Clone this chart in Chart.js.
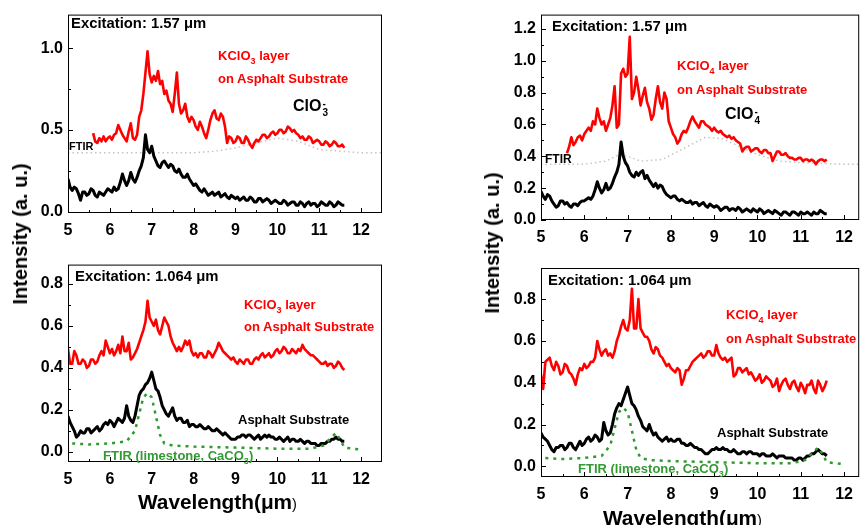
<!DOCTYPE html>
<html>
<head>
<meta charset="utf-8">
<script src="https://cdn.jsdelivr.net/npm/chart.js@4.4.1/dist/chart.umd.min.js"></script>
<style>
  body{margin:0;background:#fff;width:861px;height:525px;overflow:hidden;position:relative;font-family:"Liberation Sans",Arial,sans-serif;}
  canvas{position:absolute;}
  .t{position:absolute;font-weight:bold;white-space:nowrap;line-height:1;transform-origin:0 0;}
  .blk{color:#000;font-size:14px;transform:scaleX(1.06);}
  .red{color:#ff0000;font-size:13px;}
  .grn{color:#339933;font-size:13px;}
  .ion{display:inline-block;font-size:10px;line-height:9px;vertical-align:-5px;margin-left:1px;}
  .ytitle{position:absolute;font-weight:bold;font-size:20px;white-space:nowrap;line-height:1;transform:translate(-50%,-50%) rotate(-90deg);}
  .xtitle{position:absolute;font-weight:bold;font-size:20px;white-space:nowrap;line-height:1;transform-origin:0 0;transform:scaleX(1.04);}
</style>
</head>
<body>
<canvas id="tl" width="430" height="250" style="left:0;top:0"></canvas>
<canvas id="tr" width="431" height="250" style="left:430px;top:0"></canvas>
<canvas id="bl" width="430" height="240" style="left:0;top:250px"></canvas>
<canvas id="br" width="431" height="258" style="left:430px;top:250px"></canvas>

<div class="t blk" style="left:71px;top:15.5px">Excitation: 1.57 &mu;m</div>
<div class="t red" style="left:218px;top:49px">KClO<sub style="font-size:9px">3</sub> layer</div>
<div class="t red" style="left:218px;top:72px">on Asphalt Substrate</div>
<div class="t" style="left:293px;top:98px;font-size:16px">ClO<span class="ion">-<br>3</span></div>
<div class="t" style="left:69px;top:141px;font-size:11px">FTIR</div>

<div class="t blk" style="left:552px;top:19px">Excitation: 1.57 &mu;m</div>
<div class="t red" style="left:677px;top:59px">KClO<sub style="font-size:9px">4</sub> layer</div>
<div class="t red" style="left:677px;top:83px">on Asphalt Substrate</div>
<div class="t" style="left:725px;top:106px;font-size:16px">ClO<span class="ion">-<br>4</span></div>
<div class="t" style="left:545px;top:153px;font-size:12px">FTIR</div>

<div class="t blk" style="left:75px;top:269px">Excitation: 1.064 &mu;m</div>
<div class="t red" style="left:244px;top:297.5px">KClO<sub style="font-size:9px">3</sub> layer</div>
<div class="t red" style="left:244px;top:320px">on Asphalt Substrate</div>
<div class="t" style="left:238px;top:412.5px;font-size:13px">Asphalt Substrate</div>
<div class="t grn" style="left:103px;top:449px">FTIR (limestone, CaCO<sub style="font-size:9px">3</sub>)</div>

<div class="t blk" style="left:548px;top:273px">Excitation: 1.064 &mu;m</div>
<div class="t red" style="left:726px;top:307.5px">KClO<sub style="font-size:9px">4</sub> layer</div>
<div class="t red" style="left:726px;top:331.5px">on Asphalt Substrate</div>
<div class="t" style="left:717px;top:425.5px;font-size:13px">Asphalt Substrate</div>
<div class="t grn" style="left:578px;top:461.5px">FTIR (limestone, CaCO<sub style="font-size:9px">3</sub>)</div>

<div class="ytitle" style="left:20px;top:234px">Intensity (a. u.)</div>
<div class="ytitle" style="left:492px;top:243px">Intensity (a. u.)</div>
<div class="xtitle" style="left:138px;top:492px">Wavelength(&mu;m<span style="font-weight:normal;font-size:14px">)</span></div>
<div class="xtitle" style="left:603px;top:508px">Wavelength(&mu;m<span style="font-weight:normal;font-size:14px">)</span></div>

<script>
// wavelength grid (um), 0.05 step, for the Raman spectra
const wl = [5.00,5.05,5.10,5.15,5.20,5.25,5.30,5.35,5.40,5.45,5.50,5.55,5.60,5.65,5.70,5.75,5.80,5.85,5.90,5.95,
  6.00,6.05,6.10,6.15,6.20,6.25,6.30,6.35,6.40,6.45,6.50,6.55,6.60,6.65,6.70,6.75,6.80,6.85,6.90,6.95,
  7.00,7.05,7.10,7.15,7.20,7.25,7.30,7.35,7.40,7.45,7.50,7.55,7.60,7.65,7.70,7.75,7.80,7.85,7.90,7.95,
  8.00,8.05,8.10,8.15,8.20,8.25,8.30,8.35,8.40,8.45,8.50,8.55,8.60,8.65,8.70,8.75,8.80,8.85,8.90,8.95,
  9.00,9.05,9.10,9.15,9.20,9.25,9.30,9.35,9.40,9.45,9.50,9.55,9.60,9.65,9.70,9.75,9.80,9.85,9.90,9.95,
  10.00,10.05,10.10,10.15,10.20,10.25,10.30,10.35,10.40,10.45,10.50,10.55,10.60,10.65,10.70,10.75,10.80,10.85,10.90,10.95,
  11.00,11.05,11.10,11.15,11.20,11.25,11.30,11.35,11.40,11.45,11.50,11.55,11.60];

// top left: KClO3, 1.57 um
const kclo3Red157 = [null,null,null,null,null,null,null,null,null,null,null,null,0.48,0.43,0.42,0.45,0.43,0.46,0.43,0.45,
  0.46,0.44,0.47,0.48,0.53,0.50,0.47,0.45,0.43,0.49,0.54,0.45,0.44,0.47,0.58,0.62,0.72,0.85,0.98,0.84,
  0.79,0.83,0.80,0.86,0.78,0.80,0.72,0.74,0.68,0.66,0.61,0.72,0.85,0.66,0.60,0.62,0.66,0.58,0.55,0.58,
  0.56,0.52,0.50,0.55,0.52,0.48,0.45,0.50,0.56,0.60,0.62,0.57,0.56,0.60,0.58,0.52,0.42,0.46,0.45,0.42,
  0.43,0.46,0.45,0.42,0.42,0.46,0.44,0.41,0.39,0.42,0.44,0.43,0.45,0.47,0.47,0.45,0.46,0.48,0.49,0.47,
  0.48,0.50,0.50,0.48,0.49,0.52,0.51,0.49,0.50,0.48,0.47,0.45,0.46,0.44,0.44,0.46,0.45,0.42,0.43,0.44,
  0.43,0.41,0.41,0.43,0.42,0.40,0.41,0.43,0.42,0.40,0.40,0.41,0.39];
const asphalt157a = [0.20,0.15,0.13,0.15,0.14,0.11,0.07,0.12,0.12,0.10,0.11,0.14,0.13,0.10,0.09,0.12,0.11,0.10,0.12,0.14,
  0.13,0.12,0.15,0.13,0.14,0.18,0.23,0.19,0.16,0.19,0.24,0.20,0.18,0.21,0.25,0.28,0.33,0.47,0.38,0.36,
  0.40,0.34,0.31,0.28,0.27,0.30,0.31,0.29,0.27,0.29,0.28,0.25,0.24,0.26,0.23,0.21,0.21,0.23,0.20,0.18,
  0.16,0.17,0.15,0.13,0.12,0.14,0.12,0.10,0.11,0.12,0.10,0.11,0.12,0.09,0.10,0.11,0.09,0.08,0.10,0.09,
  0.08,0.09,0.07,0.08,0.09,0.07,0.07,0.09,0.08,0.06,0.06,0.08,0.08,0.06,0.07,0.08,0.07,0.05,0.06,0.07,
  0.06,0.05,0.05,0.07,0.06,0.04,0.05,0.06,0.06,0.04,0.04,0.06,0.05,0.03,0.05,0.06,0.04,0.05,0.05,0.03,
  0.04,0.06,0.05,0.04,0.04,0.06,0.05,0.03,0.04,0.06,0.05,0.04,0.04];
const ftirKclo3X = [5.0,6.0,7.0,8.0,8.5,9.0,9.5,10.0,10.5,11.0,11.5,12.0,12.5];
const ftirKclo3 = [0.36,0.36,0.36,0.36,0.37,0.39,0.42,0.45,0.43,0.38,0.37,0.36,0.36];

// top right: KClO4, 1.57 um
const kclo4Red157 = [null,null,null,null,null,null,null,null,null,null,null,null,0.42,0.46,0.52,0.47,0.49,0.52,0.53,0.50,
  0.54,0.56,0.58,0.56,0.62,0.60,0.70,0.64,0.60,0.62,0.56,0.60,0.64,0.72,0.84,0.58,0.60,0.92,0.95,0.90,
  0.92,1.15,0.76,0.80,0.90,0.82,0.72,0.78,0.83,0.74,0.70,0.63,0.66,0.76,0.84,0.74,0.70,0.80,0.76,0.62,
  0.58,0.54,0.52,0.48,0.50,0.54,0.56,0.55,0.58,0.62,0.65,0.62,0.60,0.58,0.62,0.62,0.60,0.59,0.58,0.56,
  0.58,0.56,0.55,0.56,0.54,0.53,0.52,0.53,0.51,0.52,0.50,0.49,0.48,0.43,0.45,0.46,0.46,0.43,0.44,0.45,
  0.45,0.43,0.42,0.44,0.44,0.42,0.42,0.37,0.40,0.43,0.43,0.41,0.41,0.42,0.40,0.39,0.39,0.38,0.38,0.39,
  0.39,0.37,0.38,0.38,0.37,0.38,0.37,0.35,0.37,0.38,0.38,0.37,0.38];
const asphalt157b = [0.18,0.15,0.13,0.16,0.15,0.12,0.10,0.08,0.09,0.12,0.12,0.10,0.11,0.09,0.08,0.10,0.10,0.09,0.11,0.12,
  0.12,0.13,0.14,0.13,0.15,0.19,0.24,0.20,0.17,0.19,0.23,0.19,0.20,0.23,0.27,0.30,0.35,0.49,0.40,0.36,
  0.34,0.30,0.28,0.27,0.30,0.28,0.30,0.31,0.26,0.28,0.25,0.23,0.21,0.23,0.20,0.22,0.21,0.18,0.16,0.15,
  0.14,0.15,0.15,0.13,0.12,0.13,0.12,0.11,0.11,0.12,0.10,0.11,0.11,0.09,0.10,0.11,0.09,0.08,0.10,0.09,
  0.08,0.09,0.08,0.06,0.07,0.08,0.08,0.06,0.07,0.07,0.06,0.08,0.07,0.05,0.06,0.07,0.06,0.05,0.07,0.06,
  0.05,0.07,0.06,0.04,0.05,0.06,0.05,0.04,0.06,0.05,0.04,0.03,0.05,0.05,0.04,0.03,0.05,0.05,0.04,0.03,
  0.05,0.04,0.04,0.05,0.04,0.03,0.05,0.04,0.04,0.06,0.05,0.04,0.04];
const ftirKclo4X = [5.0,6.0,6.5,6.8,7.0,7.3,7.8,8.3,8.8,9.2,9.6,10.0,10.5,11.0,12.0,12.5];
const ftirKclo4 = [0.35,0.35,0.37,0.41,0.40,0.37,0.38,0.45,0.52,0.51,0.46,0.41,0.37,0.36,0.35,0.35];

// bottom left: KClO3, 1.064 um
const kclo3Red1064 = [0.49,0.42,0.42,0.48,0.46,0.42,0.42,0.44,0.43,0.40,0.41,0.44,0.44,0.42,0.43,0.46,0.48,0.46,0.53,0.50,
  0.47,0.49,0.46,0.48,0.51,0.47,0.55,0.48,0.48,0.52,0.44,0.45,0.47,0.49,0.52,0.55,0.58,0.62,0.72,0.64,
  0.62,0.60,0.63,0.58,0.56,0.60,0.64,0.62,0.60,0.55,0.52,0.50,0.48,0.50,0.48,0.50,0.53,0.51,0.53,0.48,
  0.46,0.47,0.45,0.47,0.47,0.45,0.45,0.48,0.47,0.45,0.47,0.49,0.52,0.50,0.48,0.47,0.46,0.45,0.44,0.45,
  0.43,0.42,0.44,0.43,0.42,0.44,0.44,0.42,0.42,0.44,0.45,0.44,0.46,0.47,0.45,0.46,0.47,0.45,0.46,0.48,
  0.49,0.47,0.48,0.50,0.49,0.47,0.47,0.49,0.48,0.47,0.49,0.48,0.51,0.49,0.48,0.47,0.46,0.46,0.45,0.44,
  0.43,0.42,0.42,0.43,0.41,0.42,0.42,0.40,0.41,0.43,0.42,0.40,0.39];
const asphalt1064a = [0.17,0.14,0.12,0.10,0.07,0.08,0.10,0.09,0.09,0.11,0.11,0.09,0.10,0.11,0.12,0.10,0.11,0.13,0.14,0.13,
  0.15,0.14,0.12,0.14,0.16,0.15,0.14,0.16,0.22,0.17,0.15,0.14,0.17,0.22,0.27,0.29,0.30,0.32,0.33,0.35,
  0.38,0.34,0.30,0.29,0.26,0.22,0.20,0.18,0.17,0.19,0.21,0.17,0.15,0.16,0.16,0.14,0.14,0.15,0.12,0.13,
  0.13,0.12,0.12,0.13,0.12,0.11,0.11,0.12,0.11,0.10,0.10,0.11,0.10,0.09,0.08,0.09,0.08,0.07,0.06,0.06,
  0.06,0.07,0.07,0.08,0.08,0.07,0.08,0.08,0.07,0.06,0.07,0.08,0.06,0.07,0.08,0.07,0.08,0.07,0.07,0.06,
  0.06,0.07,0.06,0.05,0.06,0.07,0.05,0.06,0.06,0.05,0.05,0.06,0.05,0.04,0.05,0.05,0.04,0.04,0.04,0.03,
  0.03,0.04,0.04,0.04,0.05,0.05,0.06,0.06,0.07,0.06,0.06,0.05,0.05];

// bottom right: KClO4, 1.064 um
const kclo4Red1064 = [0.44,0.37,0.50,0.51,0.52,0.48,0.46,0.50,0.48,0.44,0.45,0.49,0.48,0.45,0.44,0.42,0.39,0.44,0.47,0.46,
  0.49,0.47,0.48,0.50,0.50,0.52,0.60,0.56,0.53,0.55,0.56,0.53,0.54,0.52,0.55,0.60,0.63,0.67,0.70,0.66,
  0.65,0.70,0.85,0.66,0.66,0.80,0.66,0.64,0.62,0.62,0.60,0.56,0.54,0.57,0.56,0.53,0.52,0.50,0.48,0.49,
  0.47,0.46,0.45,0.47,0.46,0.39,0.42,0.46,0.46,0.48,0.50,0.51,0.52,0.53,0.54,0.52,0.53,0.55,0.55,0.53,
  0.53,0.58,0.54,0.52,0.51,0.52,0.50,0.51,0.52,0.43,0.44,0.47,0.47,0.45,0.46,0.47,0.44,0.45,0.43,0.41,
  0.42,0.44,0.40,0.41,0.43,0.42,0.41,0.38,0.39,0.42,0.36,0.39,0.41,0.42,0.39,0.37,0.40,0.41,0.38,0.36,
  0.40,0.38,0.35,0.39,0.39,0.41,0.37,0.35,0.41,0.39,0.36,0.38,0.41];
const asphalt1064b = [0.16,0.14,0.13,0.12,0.10,0.08,0.07,0.09,0.09,0.10,0.10,0.08,0.09,0.11,0.11,0.09,0.08,0.10,0.12,0.10,
  0.11,0.13,0.14,0.12,0.13,0.15,0.14,0.12,0.13,0.21,0.17,0.15,0.16,0.20,0.25,0.28,0.30,0.29,0.32,0.35,
  0.38,0.34,0.30,0.29,0.27,0.24,0.22,0.19,0.18,0.17,0.20,0.17,0.15,0.16,0.14,0.13,0.12,0.13,0.14,0.12,
  0.13,0.12,0.12,0.13,0.13,0.11,0.11,0.10,0.10,0.11,0.10,0.09,0.09,0.08,0.08,0.07,0.06,0.06,0.07,0.08,
  0.08,0.09,0.08,0.08,0.09,0.08,0.08,0.07,0.07,0.08,0.07,0.06,0.06,0.07,0.07,0.06,0.07,0.07,0.06,0.06,
  0.06,0.05,0.06,0.06,0.05,0.05,0.05,0.06,0.05,0.04,0.05,0.05,0.05,0.04,0.04,0.04,0.04,0.03,0.03,0.04,
  0.04,0.03,0.04,0.05,0.05,0.06,0.06,0.07,0.08,0.07,0.06,0.06,0.05];

// FTIR of limestone (CaCO3), same in both bottom panels
const ftirCaco3X = [5.1,5.5,6.0,6.4,6.6,6.7,6.8,6.9,7.0,7.1,7.2,7.3,7.5,8.0,9.0,10.0,10.8,11.1,11.3,11.4,11.5,11.6,12.0];
const ftirCaco3 = [0.04,0.035,0.04,0.05,0.10,0.18,0.26,0.28,0.26,0.17,0.08,0.04,0.03,0.025,0.02,0.015,0.015,0.03,0.07,0.09,0.06,0.02,0.01];

// tick labels
const xTicks = [5,6,7,8,9,10,11,12];
const yTicksTL = [0.0,0.5,1.0];
const yTicksTR = [0.0,0.2,0.4,0.6,0.8,1.0,1.2];
const yTicksB = [0.0,0.2,0.4,0.6,0.8];

const tickFont = {family:'"Liberation Sans", Arial, sans-serif', size:16, weight:'bold'};

function series(xs, ys, color, width, dash){
  return {
    data: xs.map((x,i)=>({x, y: ys[i]})),
    borderColor: color, borderWidth: width, borderDash: dash || [],
    pointRadius: 0, fill: false, tension: 0, borderJoinStyle: 'round', spanGaps: false
  };
}

// frame + inward major/minor ticks, like the Origin plot
const framePlugin = {
  id: 'frame',
  afterDraw(chart){
    const {ctx, chartArea: a, scales: {x, y}} = chart;
    ctx.save();
    ctx.strokeStyle = '#000';
    ctx.lineWidth = 1;
    ctx.strokeRect(a.left + 0.5, a.top + 0.5, a.right - a.left - 1, a.bottom - a.top - 1);
    ctx.beginPath();
    const xm = x.ticks.map(t => t.value);
    xm.forEach(v => {
      const px = Math.round(x.getPixelForValue(v)) + 0.5;
      ctx.moveTo(px, a.bottom); ctx.lineTo(px, a.bottom - 5);
      if (v + 0.5 < x.max) {
        const pm = Math.round(x.getPixelForValue(v + 0.5)) + 0.5;
        ctx.moveTo(pm, a.bottom); ctx.lineTo(pm, a.bottom - 3);
      }
    });
    const ym = y.ticks.map(t => t.value);
    ym.forEach((v, i) => {
      const py = Math.round(y.getPixelForValue(v)) + 0.5;
      ctx.moveTo(a.left, py); ctx.lineTo(a.left + 5, py);
      if (i < ym.length - 1) {
        const pm = Math.round(y.getPixelForValue((v + ym[i + 1]) / 2)) + 0.5;
        ctx.moveTo(a.left, pm); ctx.lineTo(a.left + 3, pm);
      }
    });
    ctx.stroke();
    ctx.restore();
  }
};

function panel(id, p){
  new Chart(document.getElementById(id), {
    type: 'line',
    data: {datasets: p.sets},
    options: {
      responsive: false, animation: false, devicePixelRatio: 1,
      layout: {padding: {top: p.top, right: p.right, left: 0, bottom: 0}},
      plugins: {legend: {display: false}, tooltip: {enabled: false}},
      scales: {
        x: {
          type: 'linear', min: 5, max: p.xMax,
          grid: {display: false, drawTicks: false}, border: {display: false},
          afterBuildTicks: s => { s.ticks = xTicks.map(v => ({value: v})); },
          afterFit: s => { s.height = p.xH; },
          ticks: {font: tickFont, color: '#000', padding: 8, maxRotation: 0, autoSkip: false, callback: v => String(v)}
        },
        y: {
          type: 'linear', min: p.yMin, max: p.yMax,
          grid: {display: false, drawTicks: false}, border: {display: false},
          afterBuildTicks: s => { s.ticks = p.yTicks.map(v => ({value: v})); },
          afterFit: s => { s.width = p.yW; },
          ticks: {font: tickFont, color: '#000', padding: 5, autoSkip: false, callback: v => v.toFixed(1)}
        }
      }
    },
    plugins: [framePlugin]
  });
}

const gray = '#c4c4c4', green = '#2f9a2f';

panel('tl', {top: 12, right: 48, yW: 68, xH: 37, xMax: 12.5, yMin: -0.008, yMax: 1.205, yTicks: yTicksTL,
  sets: [series(wl, kclo3Red157, '#ff0000', 2.6), series(wl, asphalt157a, '#000', 3),
         series(ftirKclo3X, ftirKclo3, gray, 1.5, [1.5, 3])]});
panel('tr', {top: 12, right: 1, yW: 111, xH: 30, xMax: 12.35, yMin: 0, yMax: 1.29, yTicks: yTicksTR,
  sets: [series(wl, kclo4Red157, '#ff0000', 2.6), series(wl, asphalt157b, '#000', 3),
         series(ftirKclo4X, ftirKclo4, gray, 1.5, [1.5, 3])]});
panel('bl', {top: 12, right: 48, yW: 68, xH: 28, xMax: 12.5, yMin: -0.0486, yMax: 0.8925, yTicks: yTicksB,
  sets: [series(ftirCaco3X, ftirCaco3, green, 2.5, [3, 5]), series(wl, kclo3Red1064, '#ff0000', 2.6),
         series(wl, asphalt1064a, '#000', 3)]});
panel('br', {top: 18, right: 1, yW: 111, xH: 31, xMax: 12.35, yMin: -0.051, yMax: 0.949, yTicks: yTicksB,
  sets: [series(ftirCaco3X, ftirCaco3, green, 2.5, [3, 5]), series(wl, kclo4Red1064, '#ff0000', 2.6),
         series(wl, asphalt1064b, '#000', 3)]});
</script>
</body>
</html>
